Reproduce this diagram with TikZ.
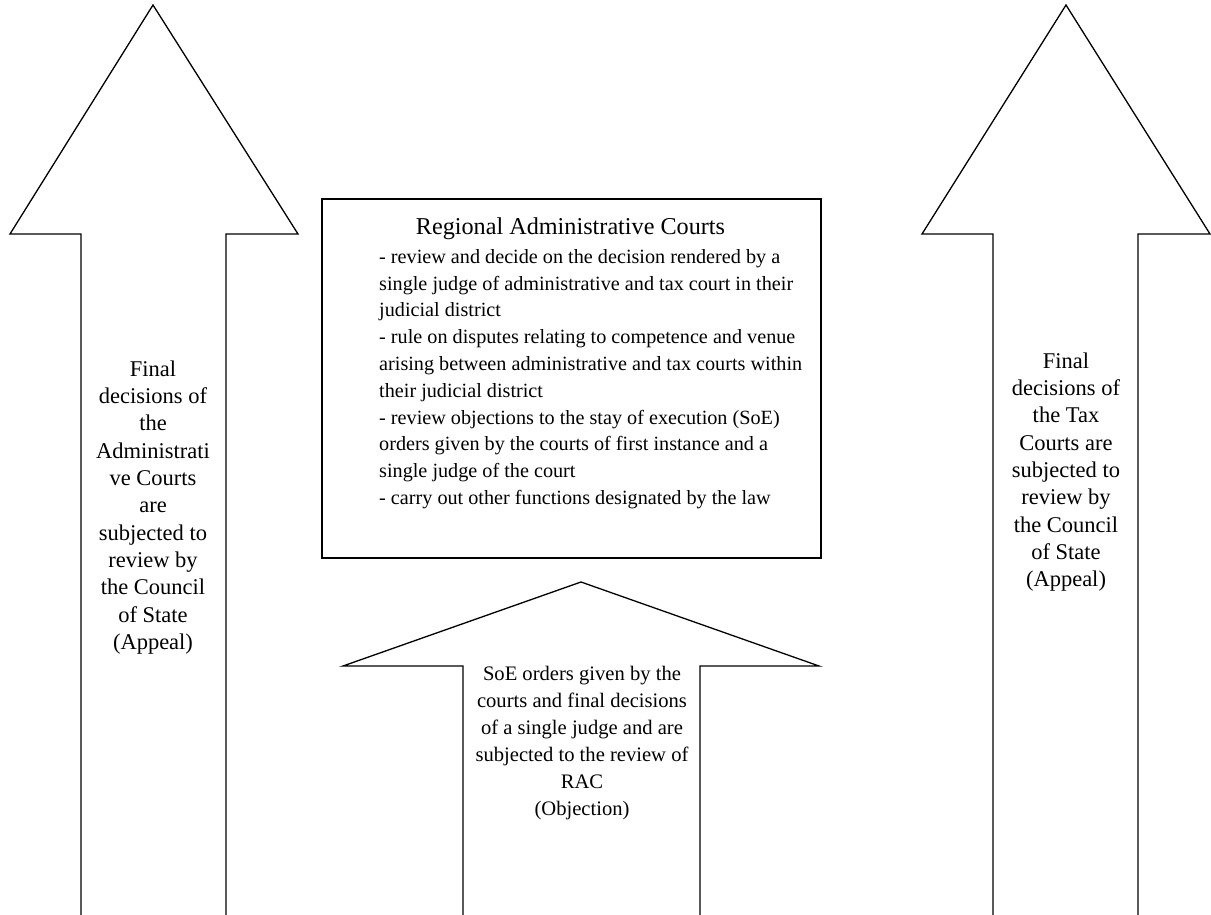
\documentclass[tikz,border=0pt]{standalone}
\usepackage{fontspec}
\setmainfont{Liberation Serif}
\begin{document}
\begin{tikzpicture}[x=1pt,y=1pt,
  arrowline/.style={draw=black,line width=1.3pt,line join=miter},
  boxline/.style={draw=black,line width=1.7pt},
  sidetext/.style={inner sep=0pt,align=center,anchor=north,font=\fontsize{22.5}{27.3}\selectfont},
  bodytext/.style={inner sep=0pt,align=left,anchor=north west,font=\fontsize{20.2}{26.8}\selectfont},
  bottomtext/.style={inner sep=0pt,align=center,anchor=north,font=\fontsize{20.6}{27}\selectfont},
  titletext/.style={inner sep=0pt,anchor=base,font=\fontsize{24.2}{28}\selectfont}]
\useasboundingbox (0,0) rectangle (1211,-915);
\fill[white] (0,0) rectangle (1211,-915);
% left arrow
\draw[arrowline] (81,-918) -- (81,-234) -- (10,-234) -- (153,-5) -- (298,-234) -- (226,-234) -- (226,-918);
% right arrow
\draw[arrowline] (993,-918) -- (993,-234) -- (922,-234) -- (1066,-5) -- (1210,-234) -- (1138,-234) -- (1138,-918);
% bottom arrow
\draw[arrowline] (463,-918) -- (463,-666) -- (343,-666) -- (581,-582) -- (819,-666) -- (700,-666) -- (700,-918);
% box
\node[boxline,minimum width=499pt,minimum height=359pt,inner sep=0pt,anchor=north west] (rac) at (321,-198) {};
\node[titletext] (title) at (570.5,-234) {Regional Administrative Courts};
\node[bodytext] (body) at (379,-249) {- review and decide on the decision rendered by a\\
single judge of administrative and tax court in their\\
judicial district\\
- rule on disputes relating to competence and venue\\
arising between administrative and tax courts within\\
their judicial district\\
- review objections to the stay of execution (SoE)\\
orders given by the courts of first instance and a\\
single judge of the court\\
- carry out other functions designated by the law};
\node[sidetext] (lefttext) at (153,-360.5) {Final\\decisions of\\the\\Administrati\\ve Courts\\are\\subjected to\\review by\\the Council\\of State\\(Appeal)};
\node[sidetext] (righttext) at (1066,-352.5) {Final\\decisions of\\the Tax\\Courts are\\subjected to\\review by\\the Council\\of State\\(Appeal)};
\node[bottomtext] (bottomtxt) at (582,-666) {SoE orders given by the\\courts and final decisions\\of a single judge and are\\subjected to the review of\\RAC\\(Objection)};
\end{tikzpicture}
\end{document}
